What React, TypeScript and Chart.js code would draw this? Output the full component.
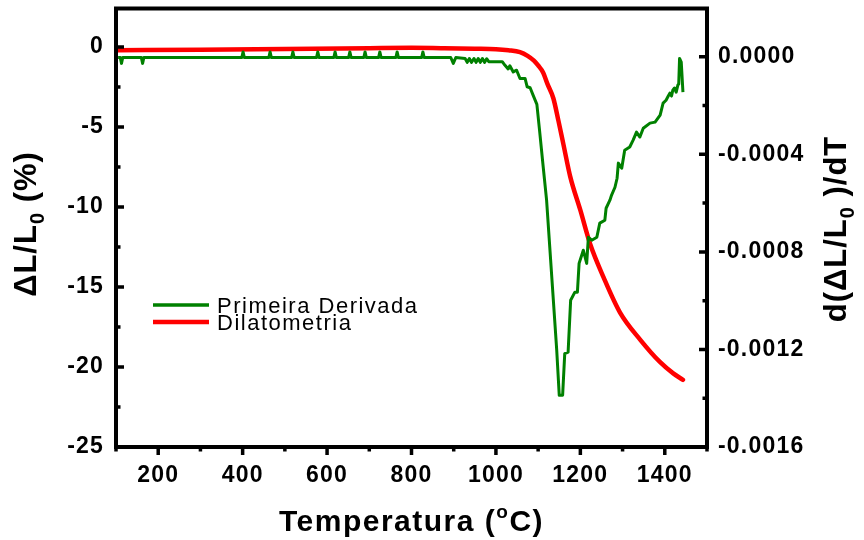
import React, { useEffect, useRef } from "react";
import { Chart, registerables } from "chart.js";

Chart.register(...registerables);

// ---- Data ----
// Dilatometria (left axis, ΔL/L0 in %)
const dilTemperature = [105, 300, 500, 700, 800, 870, 950, 1000, 1030, 1057, 1075, 1090, 1100, 1112, 1122, 1136, 1148, 1160, 1176, 1200, 1223, 1255, 1294, 1342, 1389, 1420, 1443];
const dilatometria = [-0.2, -0.17, -0.12, -0.07, -0.05, -0.07, -0.1, -0.13, -0.2, -0.32, -0.55, -0.85, -1.15, -1.6, -2.3, -3.2, -4.6, -6.1, -8.1, -10.2, -12.3, -14.4, -16.6, -18.3, -19.7, -20.4, -20.8];

// Primeira Derivada (right axis, d(ΔL/L0)/dT)
const derTemperature = [
  105, 110, 113, 116, 160, 163, 166, 398, 401, 404, 462, 465, 468, 516, 519, 522,
  575, 578, 581, 616, 619, 622, 651, 654, 657, 687, 690, 693, 722, 725, 728,
  763, 766, 769, 824, 827, 830, 893, 899, 905, 927, 932, 937, 942, 948, 953,
  958, 963, 968, 973, 978, 983, 990, 1000, 1015, 1021, 1029, 1033, 1041, 1049,
  1057, 1069, 1074, 1081, 1088, 1097, 1104, 1112, 1120, 1128, 1136, 1144, 1150,
  1158, 1163, 1171, 1177, 1187, 1193, 1197, 1207, 1215, 1219, 1227, 1239, 1246,
  1258, 1261, 1270, 1274, 1282, 1287, 1290, 1298, 1305, 1317, 1325, 1333, 1341,
  1349, 1365, 1377, 1389, 1396, 1403, 1407, 1412, 1416, 1419, 1423, 1427, 1431,
  1433, 1435, 1439, 1443,
];
const primeiraDerivada = [
  -0.000003, -0.000003, -0.000027, -0.000003, -0.000003, -0.000027, -0.000003, -0.000003, 0.00002, -0.000003, -0.000003, 0.00002, -0.000003, -0.000003, 0.00002, -0.000003,
  -0.000003, 0.00002, -0.000003, -0.000003, 0.00002, -0.000003, -0.000003, 0.00002, -0.000003, -0.000003, 0.00002, -0.000003, -0.000003, 0.00002, -0.000003,
  -0.000003, 0.00002, -0.000003, -0.000003, 0.00002, -0.000003, -0.000003, -0.000027, -0.000003, -0.000007, -0.000023, -0.000007, -0.000023, -0.000007, -0.000023,
  -0.000007, -0.000023, -0.000007, -0.000023, -0.000008, -0.00002, -0.00002, -0.00002, -0.00002, -0.000034, -0.00005, -0.000037, -0.000062, -0.000055,
  -0.000089, -0.000089, -0.000123, -0.000127, -0.000157, -0.000195, -0.000313, -0.000452, -0.000588, -0.000793, -0.000998, -0.001203, -0.001388,
  -0.001388, -0.001217, -0.001211, -0.000998, -0.000965, -0.000965, -0.000847, -0.000793, -0.000847, -0.00074, -0.000752, -0.00074, -0.000682,
  -0.00067, -0.000621, -0.000588, -0.000567, -0.000535, -0.000498, -0.000436, -0.000457, -0.000383, -0.00037, -0.000342, -0.000309, -0.000329,
  -0.000293, -0.000272, -0.000268, -0.000239, -0.00019, -0.000178, -0.000165, -0.000149, -0.000161, -0.000137, -0.000128, -0.000145, -0.000116,
  -0.000112, -0.000007, -0.000022, -0.000145,
];

// Axes ticks
const xTicks = [200, 400, 600, 800, 1000, 1200, 1400];
const xTickLabels = ["200", "400", "600", "800", "1000", "1200", "1400"];
const xMinorTicks = [100, 300, 500, 700, 900, 1100, 1300, 1500];
const leftTicks = [-25, -20, -15, -10, -5, 0];
const leftTickLabels = ["-25", "-20", "-15", "-10", "-5", "0"];
const leftMinorTicks = [-22.5, -17.5, -12.5, -7.5, -2.5];
const rightTicks = [-0.0016, -0.0012, -0.0008, -0.0004, 0];
const rightTickLabels = ["-0.0016", "-0.0012", "-0.0008", "-0.0004", "0.0000"];
const rightMinorTicks = [-0.0014, -0.001, -0.0006, -0.0002];

const seriesLabels = ["Primeira Derivada", "Dilatometria"];
const seriesColors = ["#008000", "#ff0000"];

const FAMILY = "'Liberation Sans', Arial, Helvetica, sans-serif";

type Seg = { text: string; size: number; dy?: number };

function drawRich(ctx: CanvasRenderingContext2D, segs: Seg[], cx: number, cy: number, angle: number, weight: string, spacing: string) {
  ctx.save();
  ctx.translate(cx, cy);
  ctx.rotate(angle);
  (ctx as any).letterSpacing = spacing;
  ctx.textBaseline = "alphabetic";
  ctx.textAlign = "left";
  ctx.fillStyle = "#000";
  const widths = segs.map((s) => {
    ctx.font = `${weight} ${s.size}px ${FAMILY}`;
    return ctx.measureText(s.text).width;
  });
  const total = widths.reduce((a, b) => a + b, 0);
  let x = -total / 2;
  segs.forEach((s, i) => {
    ctx.font = `${weight} ${s.size}px ${FAMILY}`;
    ctx.fillText(s.text, x, s.dy || 0);
    x += widths[i];
  });
  ctx.restore();
}

const framePlugin = {
  id: "frame",
  beforeDraw(chart: any) {
    (chart.ctx as any).letterSpacing = "1.2px";
  },
  afterDraw(chart: any) {
    const ctx: CanvasRenderingContext2D = chart.ctx;
    const a = chart.chartArea;
    const sx = chart.scales.x;
    const sy = chart.scales.y;
    const sy1 = chart.scales.y1;
    ctx.save();
    (ctx as any).letterSpacing = "0px";
    ctx.strokeStyle = "#000";
    ctx.lineWidth = 4;
    ctx.strokeRect(a.left, a.top, a.right - a.left, a.bottom - a.top);

    ctx.lineWidth = 3.5;
    ctx.beginPath();
    leftTicks.forEach((v) => {
      const y = sy.getPixelForValue(v);
      ctx.moveTo(a.left, y);
      ctx.lineTo(a.left + 8, y);
    });
    leftMinorTicks.forEach((v) => {
      const y = sy.getPixelForValue(v);
      ctx.moveTo(a.left, y);
      ctx.lineTo(a.left + 4.5, y);
    });
    rightTicks.forEach((v) => {
      const y = sy1.getPixelForValue(v);
      ctx.moveTo(a.right, y);
      ctx.lineTo(a.right - 8, y);
    });
    rightMinorTicks.forEach((v) => {
      const y = sy1.getPixelForValue(v);
      ctx.moveTo(a.right, y);
      ctx.lineTo(a.right - 4.5, y);
    });
    xTicks.forEach((v) => {
      const x = sx.getPixelForValue(v);
      ctx.moveTo(x, a.bottom);
      ctx.lineTo(x, a.bottom + 8);
    });
    xMinorTicks.forEach((v) => {
      const x = sx.getPixelForValue(v);
      ctx.moveTo(x, a.bottom);
      ctx.lineTo(x, a.bottom + 4.5);
    });
    ctx.stroke();

    // Legend
    const ds = chart.data.datasets;
    const legendRows = [
      { y: 305, text: 313, width: 3.3 },
      { y: 322, text: 329.5, width: 4.3 },
    ];
    legendRows.forEach((row, i) => {
      ctx.strokeStyle = ds[i].borderColor;
      ctx.lineWidth = row.width;
      ctx.beginPath();
      ctx.moveTo(153, row.y);
      ctx.lineTo(209, row.y);
      ctx.stroke();
      ctx.fillStyle = "#000";
      ctx.font = `22px ${FAMILY}`;
      (ctx as any).letterSpacing = "1.5px";
      ctx.textAlign = "left";
      ctx.textBaseline = "alphabetic";
      ctx.fillText(ds[i].label, 217, row.text);
    });
    ctx.restore();

    // Axis titles
    drawRich(ctx, [
      { text: "Temperatura (", size: 30 },
      { text: "o", size: 19, dy: -13 },
      { text: "C)", size: 30 },
    ], (a.left + a.right) / 2, 531, 0, "bold", "1.5px");
    drawRich(ctx, [
      { text: "\u0394L/L", size: 31 },
      { text: "0", size: 20, dy: 8 },
      { text: " (%)", size: 31 },
    ], 36, 224, -Math.PI / 2, "bold", "1px");
    drawRich(ctx, [
      { text: "d(\u0394L/L", size: 31 },
      { text: "0", size: 20, dy: 8 },
      { text: " )/dT", size: 31 },
    ], 846, 229, -Math.PI / 2, "bold", "1px");
  },
};

export default function App() {
  const canvasRef = useRef<HTMLCanvasElement | null>(null);

  useEffect(() => {
    if (!canvasRef.current) return;
    const tickFont = { family: FAMILY, size: 23, weight: "bold" as const };
    const chart = new Chart(canvasRef.current, {
      type: "line",
      data: {
        datasets: [
          {
            label: seriesLabels[0],
            data: derTemperature.map((t, i) => ({ x: t, y: primeiraDerivada[i] })),
            yAxisID: "y1",
            borderColor: seriesColors[0],
            borderWidth: 3,
            pointRadius: 0,
            tension: 0,
            borderJoinStyle: "round",
            fill: false,
          },
          {
            label: seriesLabels[1],
            data: dilTemperature.map((t, i) => ({ x: t, y: dilatometria[i] })),
            yAxisID: "y",
            borderColor: seriesColors[1],
            borderWidth: 4.5,
            pointRadius: 0,
            cubicInterpolationMode: "monotone",
            borderCapStyle: "round",
            fill: false,
          },
        ],
      },
      options: {
        animation: false,
        responsive: true,
        maintainAspectRatio: false,
        layout: { padding: { top: 8.5, left: 0, right: 0, bottom: 0 } },
        plugins: { legend: { display: false }, tooltip: { enabled: false } },
        scales: {
          x: {
            type: "linear",
            min: 100,
            max: 1500,
            afterBuildTicks: (s: any) => {
              s.ticks = xTicks.map((v) => ({ value: v }));
            },
            afterFit: (s: any) => {
              s.height = 93;
              s.paddingLeft = 0;
              s.paddingRight = 0;
            },
            grid: { display: false, drawTicks: false },
            border: { display: false },
            ticks: {
              padding: 15,
              color: "#000",
              font: tickFont,
              maxRotation: 0,
              autoSkip: false,
              callback: (_v: any, i: number) => xTickLabels[i],
            },
          },
          y: {
            type: "linear",
            position: "left",
            min: -25,
            max: 2.41,
            afterBuildTicks: (s: any) => {
              s.ticks = leftTicks.map((v) => ({ value: v }));
            },
            afterFit: (s: any) => {
              s.width = 116;
              s.paddingTop = 0;
              s.paddingBottom = 0;
            },
            grid: { display: false, drawTicks: false },
            border: { display: false },
            ticks: {
              padding: 12,
              color: "#000",
              font: tickFont,
              autoSkip: false,
              callback: (_v: any, i: number) => leftTickLabels[i],
            },
          },
          y1: {
            type: "linear",
            position: "right",
            min: -0.0016,
            max: 0.000198,
            afterBuildTicks: (s: any) => {
              s.ticks = rightTicks.map((v) => ({ value: v }));
            },
            afterFit: (s: any) => {
              s.width = 157;
              s.paddingTop = 0;
              s.paddingBottom = 0;
            },
            grid: { display: false, drawTicks: false, drawOnChartArea: false },
            border: { display: false },
            ticks: {
              padding: 11,
              color: "#000",
              font: tickFont,
              autoSkip: false,
              callback: (_v: any, i: number) => rightTickLabels[i],
            },
          },
        },
      },
      plugins: [framePlugin],
    } as any);
    return () => chart.destroy();
  }, []);

  return (
    <div style={{ position: "fixed", left: 0, top: 0, width: 864, height: 540, background: "#fff" }}>
      <canvas ref={canvasRef} />
    </div>
  );
}
